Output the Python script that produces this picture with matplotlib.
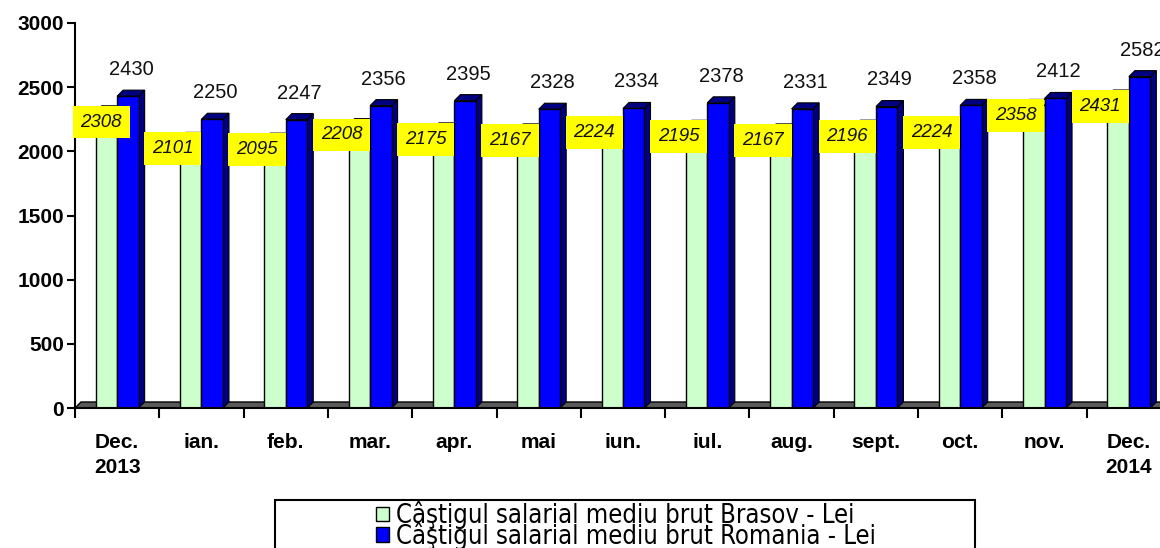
import matplotlib
matplotlib.use("Agg")
import matplotlib.pyplot as plt
from matplotlib.patches import Polygon, Rectangle, Patch
from matplotlib import font_manager as fm

categories = ["Dec.\n2013", "ian.", "feb.", "mar.", "apr.", "mai", "iun.", "iul.",
              "aug.", "sept.", "oct.", "nov.", "Dec.\n2014"]
brasov = [2308, 2101, 2095, 2208, 2175, 2167, 2224, 2195, 2167, 2196, 2224, 2358, 2431]
romania = [2430, 2250, 2247, 2356, 2395, 2328, 2334, 2378, 2331, 2349, 2358, 2412, 2582]
yticks = [0, 500, 1000, 1500, 2000, 2500, 3000]
legend_labels = ["Câştigul salarial mediu brut Brasov - Lei",
                 "Câştigul salarial mediu brut Romania - Lei"]

plt.rcParams['font.family'] = ['Liberation Sans', 'DejaVu Sans']

# look for a condensed sans font for the legend
narrow_prop = None
for f in fm.fontManager.ttflist:
    name = f.name.lower()
    if ("narrow" in name or "condensed" in name or str(f.stretch).lower() in
            ("condensed", "semi-condensed", "extra-condensed")) and f.style == "normal" \
            and f.weight in (400, "normal", "regular"):
        narrow_prop = fm.FontProperties(fname=f.fname)
        break

W, H = 1160, 548
fig = plt.figure(figsize=(W / 100, H / 100), dpi=100)
ax = fig.add_axes([75 / W, (H - 408) / H, 1096 / W, 385 / H])

GREEN = "#CCFFCC"
BLUE = "#0000FF"
NAVY = "#000080"
n = len(categories)
bw = 0.255
dx = 6 / 84.3
dy = 6 * 3000 / 385

ax.set_xlim(-0.5, n - 0.5)
ax.set_ylim(0, 3000)

floor = Polygon([(-0.5, 0), (-0.5 + dx, dy), (n - 0.5 + dx, dy), (n - 0.5, 0)],
                closed=True, facecolor="#5a5a5a", edgecolor="black", lw=1, zorder=1,
                clip_on=False)
ax.add_patch(floor)

for i, (b, r) in enumerate(zip(brasov, romania)):
    gx0 = i - bw
    ax.add_patch(Polygon([(gx0, b), (gx0 + dx, b + dy), (i + dx, b + dy), (i, b)],
                         closed=True, facecolor="#a8d8a8", edgecolor="black", lw=0.8, zorder=2))
    ax.bar(i - bw / 2, b, width=bw, color=GREEN, edgecolor="black", lw=1, zorder=3)
    bx1 = i + bw
    ax.add_patch(Polygon([(bx1, 0), (bx1 + dx, dy), (bx1 + dx, r + dy), (bx1, r)],
                         closed=True, facecolor=NAVY, edgecolor="black", lw=0.8, zorder=4))
    ax.add_patch(Polygon([(i, r), (i + dx, r + dy), (bx1 + dx, r + dy), (bx1, r)],
                         closed=True, facecolor=NAVY, edgecolor="black", lw=0.8, zorder=4))
    ax.bar(i + bw / 2, r, width=bw, color=BLUE, edgecolor="black", lw=1, zorder=5)

    ax.annotate(str(r), xy=(i + bw / 2 + dx / 2, r + dy), xytext=(0, 8),
                textcoords="offset points", ha="center", va="bottom",
                fontsize=14.5, color="#111111", zorder=8, annotation_clip=False)
    lx = max(i - 0.34, -0.5 + 0.31)
    ax.text(lx, b - 80, str(b), ha="center", va="center", fontsize=13.5,
            style="italic", color="#111111", zorder=7,
            bbox=dict(boxstyle="square,pad=0.42", facecolor="#FFFF00", edgecolor="none"))

for s in ["top", "right"]:
    ax.spines[s].set_visible(False)
ax.spines["left"].set_linewidth(1.5)
ax.spines["bottom"].set_linewidth(1.5)
ax.spines["bottom"].set_zorder(6)

ax.set_yticks(yticks)
ax.set_yticklabels([str(t) for t in yticks], fontweight="bold", fontsize=15)
ax.tick_params(axis="y", direction="out", length=6, width=1.5, pad=2)

ax.set_xticks(range(n))
ax.set_xticklabels(categories, fontweight="bold", fontsize=15, linespacing=1.4)
ax.tick_params(axis="x", which="major", length=0, pad=18)
ax.set_xticks([i - 0.5 for i in range(n + 1)], minor=True)
ax.tick_params(axis="x", which="minor", direction="out", length=7, width=1.5)

fig.patches.append(Rectangle((275 / W, -0.05), 700 / W, 0.05 + 48 / H,
                             transform=fig.transFigure, fill=False,
                             edgecolor="black", lw=1.5))
handles = [Patch(facecolor=GREEN, edgecolor="black", lw=1),
           Patch(facecolor=BLUE, edgecolor="black", lw=1)]
if narrow_prop is not None:
    lprop = narrow_prop.copy()
    lprop.set_size(18.4)
else:
    lprop = fm.FontProperties(family="Liberation Sans", size=16.5)
fig.legend(handles, legend_labels, loc="upper center",
           bbox_to_anchor=(626 / W, 1 - 501 / H), frameon=False,
           prop=lprop, handlelength=0.5, handleheight=0.5, labelspacing=-0.28,
           handletextpad=0.25, borderpad=0, borderaxespad=0)

fig.savefig("out.png", dpi=100)
